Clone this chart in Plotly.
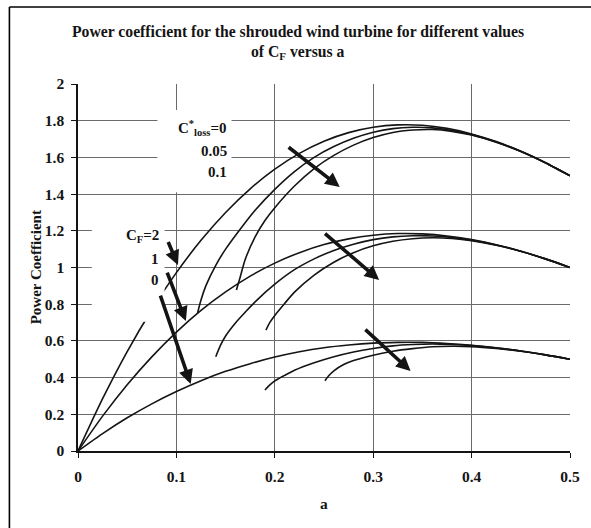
import plotly.graph_objects as go

# ---- data ----
a_base = [0, 0.025, 0.05, 0.075, 0.1, 0.125, 0.15, 0.175, 0.2, 0.225, 0.25, 0.275,
          0.3, 0.325, 0.35, 0.375, 0.4, 0.425, 0.45, 0.475, 0.5]
cp_cf2_loss0 = [0, 0.285, 0.542, 0.770, 0.972, 1.148, 1.300, 1.429, 1.536, 1.622, 1.688,
                1.735, 1.764, 1.777, 1.775, 1.758, 1.728, 1.686, 1.634, 1.571, 1.500]
cp_cf1_loss0 = [0, 0.190, 0.361, 0.513, 0.648, 0.766, 0.867, 0.953, 1.024, 1.081, 1.125,
                1.156, 1.176, 1.185, 1.183, 1.172, 1.152, 1.124, 1.089, 1.047, 1.000]
cp_cf0_loss0 = [0, 0.095, 0.181, 0.257, 0.324, 0.383, 0.434, 0.476, 0.512, 0.541, 0.563,
                0.578, 0.588, 0.592, 0.592, 0.586, 0.576, 0.562, 0.545, 0.524, 0.500]

a_cf2_l05 = [0.1215, 0.125, 0.13, 0.14, 0.15, 0.165, 0.18, 0.2, 0.22, 0.24, 0.26, 0.28,
             0.3, 0.32, 0.34, 0.36, 0.38, 0.4, 0.425, 0.45, 0.475, 0.5]
cp_cf2_l05 = [0.752, 0.823, 0.901, 1.012, 1.100, 1.210, 1.312, 1.426, 1.523, 1.600, 1.659,
              1.704, 1.737, 1.757, 1.764, 1.761, 1.747, 1.724, 1.684, 1.632, 1.571, 1.500]

a_cf2_l10 = [0.161, 0.165, 0.17, 0.18, 0.19, 0.2, 0.22, 0.24, 0.26, 0.28, 0.3, 0.32, 0.34,
             0.36, 0.38, 0.4, 0.425, 0.45, 0.475, 0.5]
cp_cf2_l10 = [0.877, 0.951, 1.045, 1.167, 1.256, 1.326, 1.444, 1.539, 1.611, 1.667, 1.708,
              1.736, 1.749, 1.752, 1.742, 1.722, 1.683, 1.633, 1.571, 1.500]

a_cf1_l05 = [0.14, 0.145, 0.15, 0.16, 0.17, 0.18, 0.2, 0.22, 0.24, 0.26, 0.28, 0.3, 0.32,
             0.34, 0.36, 0.38, 0.4, 0.425, 0.45, 0.475, 0.5]
cp_cf1_l05 = [0.514, 0.578, 0.627, 0.698, 0.757, 0.813, 0.909, 0.988, 1.047, 1.093, 1.127,
              1.152, 1.167, 1.173, 1.172, 1.164, 1.149, 1.123, 1.089, 1.047, 1.000]

a_cf1_l10 = [0.191, 0.195, 0.2, 0.21, 0.22, 0.24, 0.26, 0.28, 0.3, 0.32, 0.34, 0.36, 0.38,
             0.4, 0.425, 0.45, 0.475, 0.5]
cp_cf1_l10 = [0.659, 0.701, 0.739, 0.804, 0.866, 0.959, 1.029, 1.081, 1.118, 1.143, 1.157,
              1.162, 1.158, 1.146, 1.121, 1.088, 1.047, 1.000]

a_cf0_l05 = [0.19, 0.195, 0.2, 0.21, 0.22, 0.24, 0.26, 0.28, 0.3, 0.32, 0.34, 0.36, 0.38,
             0.4, 0.425, 0.45, 0.475, 0.5]
cp_cf0_l05 = [0.332, 0.360, 0.382, 0.412, 0.440, 0.481, 0.514, 0.540, 0.559, 0.573, 0.580,
              0.583, 0.580, 0.574, 0.561, 0.545, 0.524, 0.500]

a_cf0_l10 = [0.251, 0.255, 0.26, 0.27, 0.28, 0.3, 0.32, 0.34, 0.36, 0.38, 0.4, 0.425, 0.45,
             0.475, 0.5]
cp_cf0_l10 = [0.383, 0.411, 0.437, 0.471, 0.493, 0.522, 0.544, 0.558, 0.568, 0.571, 0.569,
              0.559, 0.544, 0.524, 0.500]

# arrows: (tail_a, tail_cp, head_a, head_cp)
arrows = [
    (0.211, 1.668, 0.266, 1.439),
    (0.248, 1.199, 0.306, 0.932),
    (0.289, 0.676, 0.338, 0.436),
    (0.0886, 1.177, 0.1016, 1.014),
    (0.0876, 1.014, 0.1096, 0.708),
    (0.0807, 0.894, 0.1145, 0.365),
]
loss_labels = ["C<sup>*</sup><sub>loss</sub>=0", "0.05", "0.1"]
cf_labels = ["C<sub>F</sub>=2", "1", "0"]

SERIF = "Liberation Serif"
INK = "#141414"

fig = go.Figure()
curves = [
    (a_base, cp_cf2_loss0), (a_cf2_l05, cp_cf2_l05), (a_cf2_l10, cp_cf2_l10),
    (a_base, cp_cf1_loss0), (a_cf1_l05, cp_cf1_l05), (a_cf1_l10, cp_cf1_l10),
    (a_base, cp_cf0_loss0), (a_cf0_l05, cp_cf0_l05), (a_cf0_l10, cp_cf0_l10),
]
for xs, ys in curves:
    fig.add_trace(go.Scatter(x=xs, y=ys, mode="lines",
                             line=dict(color=INK, width=1.6, shape="spline", smoothing=0.7),
                             showlegend=False, hoverinfo="skip"))

shapes = [
    # white label boxes covering grid and curves
    dict(type="rect", xref="x", yref="y", x0=0.0807, x1=0.156, y0=1.41, y1=1.858,
         fillcolor="white", line=dict(width=0), layer="above"),
    dict(type="rect", xref="x", yref="y", x0=0.014, x1=0.088, y0=0.705, y1=1.24,
         fillcolor="white", line=dict(width=0), layer="above"),
    # outer frame (left and top)
    dict(type="line", xref="paper", yref="paper", x0=-0.1394, x1=-0.1394, y0=1.2098, y1=-0.25,
         line=dict(color="black", width=1.6)),
    dict(type="line", xref="paper", yref="paper", x0=-0.1394, x1=1.05, y0=1.2098, y1=1.2098,
         line=dict(color="black", width=1.6)),
]

ann = []
for (tx, ty, hx, hy) in arrows:
    ann.append(dict(x=hx, y=hy, ax=tx, ay=ty, xref="x", yref="y", axref="x", ayref="y",
                    text=" ", showarrow=True, arrowhead=2, arrowsize=0.8, arrowwidth=3.6,
                    arrowcolor=INK, standoff=0))
for txt, yy in zip(loss_labels, [1.760, 1.635, 1.520]):
    ann.append(dict(x=0.1534, y=yy, xref="x", yref="y", text=txt, showarrow=False,
                    xanchor="right", yanchor="middle",
                    font=dict(family=SERIF, size=15, color=INK, weight="bold")))
for txt, yy in zip(cf_labels, [1.172, 1.046, 0.932]):
    ann.append(dict(x=0.0847, y=yy, xref="x", yref="y", text=txt, showarrow=False,
                    xanchor="right", yanchor="middle",
                    font=dict(family=SERIF, size=15, color=INK, weight="bold")))
# title lines and axis titles
ann.append(dict(x=0.448, y=1.1417, xref="paper", yref="paper", showarrow=False,
                text="Power coefficient for the shrouded wind turbine for different values",
                xanchor="center", yanchor="middle",
                font=dict(family=SERIF, size=15.7, color=INK, weight="bold")))
ann.append(dict(x=0.448, y=1.0845, xref="paper", yref="paper", showarrow=False,
                text="of C<sub>F</sub> versus a", xanchor="center", yanchor="middle",
                font=dict(family=SERIF, size=15.7, color=INK, weight="bold")))
ann.append(dict(x=0.5, y=-0.1417, xref="paper", yref="paper", showarrow=False, text="a",
                xanchor="center", yanchor="middle",
                font=dict(family=SERIF, size=15.5, color=INK, weight="bold")))
ann.append(dict(x=-0.0857, y=0.5, xref="paper", yref="paper", showarrow=False,
                text="Power Coefficient", textangle=-90, xanchor="center", yanchor="middle",
                font=dict(family=SERIF, size=15, color=INK, weight="bold")))

axis_common = dict(showgrid=True, gridcolor="#6a6a6a", gridwidth=1, zeroline=False,
                   showline=True, linecolor=INK, linewidth=1.5, ticks="outside",
                   ticklen=5, tickcolor=INK, tickwidth=1,
                   tickfont=dict(family=SERIF, size=15.5, color=INK, weight="bold"))
fig.update_layout(
    width=591, height=528,
    margin=dict(l=78, r=11, t=84, b=77),
    paper_bgcolor="white", plot_bgcolor="white",
    shapes=shapes, annotations=ann,
    xaxis=dict(range=[0, 0.5], dtick=0.1, tick0=0, ticklabelstandoff=6, **axis_common),
    yaxis=dict(range=[0, 2], dtick=0.2, tick0=0, ticklabelstandoff=4, **axis_common),
)
fig.write_html("out.html")
